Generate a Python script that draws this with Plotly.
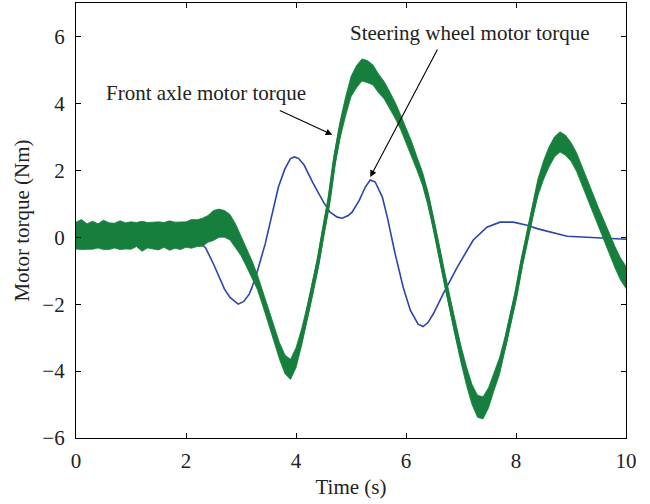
import plotly.graph_objects as go

# ---------------- data ----------------
blue_t = [0, 0.5, 1.0, 1.5, 2.0, 2.2, 2.36, 2.5, 2.6, 2.7, 2.8, 2.9, 2.95, 3.05, 3.15, 3.2, 3.3,
          3.44, 3.55, 3.68, 3.8, 3.9, 3.97, 4.05, 4.15, 4.31, 4.5, 4.62, 4.75, 4.84, 4.95, 5.02,
          5.15, 5.26, 5.35, 5.44, 5.57, 5.66, 5.8, 5.95, 6.08, 6.22, 6.31, 6.4, 6.5, 6.68, 6.93,
          7.22, 7.47, 7.71, 7.95, 8.2, 8.4, 8.62, 8.93, 9.29, 9.65, 10.0]
blue_y = [0, 0, 0, 0, 0.02, -0.05, -0.33, -0.8, -1.2, -1.55, -1.8, -1.95, -2.0, -1.92, -1.7, -1.5, -1.0,
          -0.2, 0.6, 1.5, 2.05, 2.35, 2.4, 2.35, 2.15, 1.62, 1.05, 0.75, 0.6, 0.57, 0.65, 0.75,
          1.1, 1.5, 1.71, 1.65, 1.2, 0.6, -0.48, -1.5, -2.19, -2.6, -2.67, -2.55, -2.28, -1.68, -0.9,
          -0.09, 0.3, 0.45, 0.45, 0.36, 0.25, 0.15, 0.03, 0.0, -0.03, -0.06]

green_t = [round(i * 0.1, 1) for i in range(101)]
green_mid = [0.05, 0.08, 0.02, 0.06, 0.04, 0.07, 0.03, 0.05, 0.06, 0.04, 0.05, 0.08, 0.03, 0.06,
             0.05, 0.04, 0.07, 0.05, 0.06, 0.04, 0.08, 0.1, 0.12,
             0.15, 0.25, 0.35, 0.42, 0.4, 0.3, 0.05,
             -0.25, -0.6, -0.95, -1.35, -1.85, -2.35, -2.9, -3.4, -3.8, -3.95,
             -3.6, -3.0, -2.3, -1.55, -0.75, 0.2, 1.1, 2.3, 3.2, 3.9,
             4.5, 4.8, 5.0, 4.95, 4.85, 4.6, 4.4, 4.1, 3.8, 3.45,
             3.05, 2.65, 2.2, 1.75, 1.15, 0.4, -0.4, -1.25, -2.0, -2.8,
             -3.5, -4.15, -4.7, -5.05, -5.1, -4.8, -4.3, -3.85, -3.2, -2.45,
             -1.7, -0.8, 0.0, 0.8, 1.5, 2.0, 2.4, 2.7, 2.85, 2.75,
             2.55, 2.25, 1.85, 1.45, 1.05, 0.6, 0.2, -0.2, -0.6, -0.95, -1.2]
green_spread = [0.4, 0.45, 0.38, 0.42, 0.36, 0.44, 0.4, 0.37, 0.43, 0.39, 0.41, 0.36, 0.45, 0.38,
                0.4, 0.42, 0.37, 0.44, 0.39, 0.41, 0.38, 0.43, 0.4,
                0.42, 0.4, 0.45, 0.42, 0.4, 0.38, 0.35,
                0.3, 0.28, 0.25, 0.22, 0.22, 0.22, 0.22, 0.25, 0.28, 0.3,
                0.3, 0.25, 0.22, 0.2, 0.2, 0.2, 0.2, 0.22, 0.25, 0.28,
                0.3, 0.33, 0.33, 0.33, 0.3, 0.28, 0.26, 0.26, 0.24, 0.22,
                0.22, 0.22, 0.2, 0.2, 0.2, 0.18, 0.18, 0.18, 0.2, 0.22,
                0.25, 0.28, 0.3, 0.33, 0.33, 0.3, 0.28, 0.25, 0.22, 0.2,
                0.18, 0.18, 0.2, 0.22, 0.25, 0.28, 0.3, 0.3, 0.3, 0.3,
                0.28, 0.28, 0.26, 0.26, 0.28, 0.28, 0.3, 0.3, 0.32, 0.33, 0.33]

x_ticks = [0, 2, 4, 6, 8, 10]
y_ticks = [-6, -4, -2, 0, 2, 4, 6]

BLUE = "#2b45a8"
GREEN = "#167f3d"
FONT = "Liberation Serif"
FS = 21

green_upper = [m + s for m, s in zip(green_mid, green_spread)]
green_lower = [m - s for m, s in zip(green_mid, green_spread)]

fig = go.Figure()
fig.add_trace(go.Scatter(x=blue_t, y=blue_y, mode="lines",
                         line=dict(color=BLUE, width=1.6), showlegend=False))
fig.add_trace(go.Scatter(x=green_t + green_t[::-1], y=green_upper + green_lower[::-1],
                         mode="lines", fill="toself", fillcolor=GREEN,
                         line=dict(color=GREEN, width=0.8), showlegend=False))
fig.add_trace(go.Scatter(x=green_t, y=green_mid, mode="lines",
                         line=dict(color=GREEN, width=3.5), showlegend=False))

axis_common = dict(showgrid=False, zeroline=False, showline=True, linecolor="black",
                   linewidth=1.3, mirror="allticks", ticks="inside", ticklen=5,
                   tickcolor="black", tickwidth=1, tickfont=dict(family=FONT, size=FS, color="#222"))

fig.update_xaxes(range=[0, 10], tickvals=x_ticks,
                 title=dict(text="Time (s)", font=dict(family=FONT, size=FS, color="#222"), standoff=6),
                 ticklabelstandoff=4, **axis_common)
fig.update_yaxes(range=[-6, 7], tickvals=y_ticks,
                 title=dict(text="Motor torque (Nm)", font=dict(family=FONT, size=FS, color="#222"), standoff=6),
                 ticklabelstandoff=6, **axis_common)

fig.add_annotation(x=2.37, y=4.32, text="Front axle motor torque", showarrow=False,
                   font=dict(family=FONT, size=FS, color="#222"))
fig.add_annotation(x=7.17, y=6.09, text="Steering wheel motor torque", showarrow=False,
                   font=dict(family=FONT, size=FS, color="#222"))
fig.add_annotation(x=4.66, y=3.06, text="", showarrow=True, ax=-54, ay=-25,
                   arrowhead=2, arrowsize=1.2, arrowwidth=1.1, arrowcolor="black", standoff=0)
fig.add_annotation(x=5.35, y=1.8, text="", showarrow=True, ax=68, ay=-129,
                   arrowhead=2, arrowsize=1.2, arrowwidth=1.1, arrowcolor="black", standoff=0)

fig.update_layout(width=650, height=504, margin=dict(l=76, r=24, t=3, b=66),
                  plot_bgcolor="white", paper_bgcolor="white")

fig.write_html("out.html")
